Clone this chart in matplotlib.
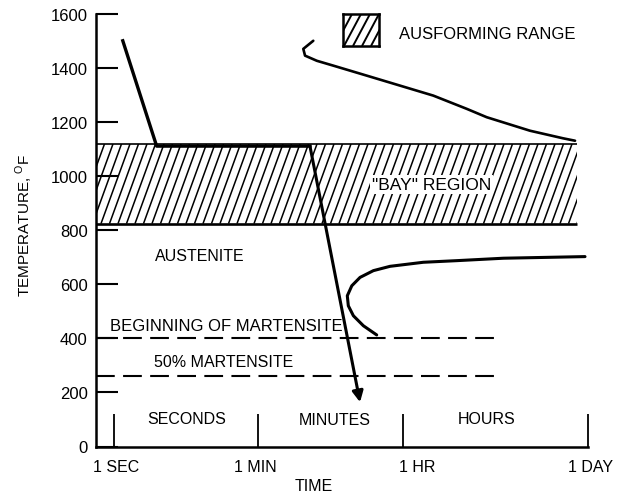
import numpy as np
import matplotlib.pyplot as plt
from matplotlib.collections import LineCollection
from matplotlib.patches import Rectangle

plt.rcParams['font.family'] = ['Liberation Sans', 'DejaVu Sans']
plt.rcParams['mathtext.fontset'] = 'custom'
plt.rcParams['mathtext.rm'] = 'Liberation Sans'

# schematic time axis: 1 sec = 0, 1 min = 1, 1 hr = 2, 1 day = 3.28
time_ticks = [0, 1, 2, 3.28]
time_labels = ['1 SEC', '1 MIN', '1 HR', '1 DAY']
temp_ticks = [0, 200, 400, 600, 800, 1000, 1200, 1400, 1600]

band_end = 3.20
band_temp = [825, 1120]

# cooling path (austenitize, quench to bay, ausform, quench)
cool_t = [0.064, 0.298, 1.357, 1.703]
cool_T = [1502, 1112, 1112, 164]

# upper transformation curve
upper_t = [1.380, 1.311, 1.323, 1.404, 1.518, 1.749, 1.979, 2.209, 2.440, 2.578, 2.877, 3.105, 3.188]
upper_T = [1502, 1472, 1447, 1428, 1410, 1373, 1336, 1299, 1250, 1219, 1169, 1141, 1132]

# lower (bainite) curve
lower_t = [1.818, 1.726, 1.657, 1.622, 1.615, 1.646, 1.703, 1.795, 1.910, 2.140, 2.371, 2.693, 3.257]
lower_T = [413, 447, 484, 521, 558, 595, 626, 651, 667, 682, 688, 697, 703]

ms_end = 2.635
ms_T = 400
m50_T = 260

XMIN, XMAX = -0.121, 3.478
FS = 11.5


def hatch(ax, x0, x1, y0, y1, clip, spacing=8.5, angle=70, lw=1.1):
    # steep diagonal hatching, built in pixel space then mapped back
    (X0, Y0) = ax.transData.transform((x0, y0))
    (X1, Y1) = ax.transData.transform((x1, y1))
    run = (Y1 - Y0) / np.tan(np.radians(angle))
    inv = ax.transData.inverted()
    segs = []
    for s in np.arange(X0 - run, X1 + spacing, spacing):
        segs.append(inv.transform([(s, Y0), (s + run, Y1)]))
    lc = LineCollection(segs, colors='black', linewidths=lw, zorder=2)
    ax.add_collection(lc)
    lc.set_clip_path(clip)


fig = plt.figure(figsize=(6.17, 5.02), dpi=100)
ax = fig.add_axes([96 / 617, 1 - 447.5 / 502, 521 / 617, 432.2 / 502])
ax.set_xlim(XMIN, XMAX)
ax.set_ylim(0, 1600)

for s in ['top', 'right']:
    ax.spines[s].set_visible(False)
ax.spines['left'].set_linewidth(1.8)
ax.spines['bottom'].set_linewidth(1.8)
ax.spines['bottom'].set_bounds(XMIN, time_ticks[-1])

ax.set_yticks(temp_ticks)
ax.set_yticklabels([str(v) for v in temp_ticks], fontsize=12)
ax.tick_params(axis='y', direction='in', length=16, width=1.5, pad=6)
ax.set_xticks(time_ticks)
ax.set_xticklabels([])
ax.tick_params(axis='x', direction='in', length=24, width=1.3)

label_dx = [3, -3, 14, 2]
for t, lbl, dx in zip(time_ticks, time_labels, label_dx):
    ax.annotate(lbl, xy=(t, 0), xytext=(dx, -20), textcoords='offset pixels',
                ha='center', va='center', fontsize=FS, annotation_clip=False)

# ausforming band
rect = Rectangle((XMIN, band_temp[0]), band_end - XMIN, band_temp[1] - band_temp[0],
                 facecolor='none', edgecolor='none')
ax.add_patch(rect)
hatch(ax, XMIN, band_end, band_temp[0], band_temp[1], rect)
ax.hlines(band_temp[1], XMIN, band_end, color='black', lw=1.2, zorder=3)
ax.hlines(band_temp[0], XMIN, band_end, color='black', lw=1.9, zorder=3)

# martensite lines
ax.hlines([ms_T, m50_T], XMIN, ms_end, color='black', lw=1.5,
          linestyles=[(0, (9, 4))], zorder=3)

# curves
ax.plot(upper_t, upper_T, color='black', lw=1.9, solid_capstyle='round', zorder=4)
ax.plot(lower_t, lower_T, color='black', lw=2.2, solid_capstyle='round', zorder=4)
ax.plot(cool_t[:-1], cool_T[:-1], color='black', lw=2.4, solid_joinstyle='round', zorder=5)
ax.annotate('', xy=(cool_t[-1], cool_T[-1]), xytext=(cool_t[-2], cool_T[-2]),
            arrowprops=dict(arrowstyle='-|>', lw=2.2, color='black',
                            mutation_scale=16, shrinkA=0, shrinkB=0), zorder=5)

# region labels
ax.text(2.198, 969, '"BAY" REGION', ha='center', va='center', fontsize=12.5, zorder=6,
        bbox=dict(facecolor='white', edgecolor='none', pad=1.5))
ax.text(0.598, 706, 'AUSTENITE', ha='center', va='center', fontsize=FS)
ax.text(0.777, 447, 'BEGINNING OF MARTENSITE', ha='center', va='center', fontsize=12)
ax.text(0.763, 316, '50% MARTENSITE', ha='center', va='center', fontsize=FS)
ax.text(0.506, 102, 'SECONDS', ha='center', va='center', fontsize=FS)
ax.text(1.530, 100, 'MINUTES', ha='center', va='center', fontsize=FS)
ax.text(2.580, 102, 'HOURS', ha='center', va='center', fontsize=FS)

fig.text(313.5 / 617, 1 - 487 / 502, 'TIME', ha='center', va='center', fontsize=FS)
fig.text(24 / 617, 1 - 225 / 502, r'TEMPERATURE, $^{\mathrm{O}}$F', rotation=90,
         ha='center', va='center', fontsize=11)

# legend swatch
lax = fig.add_axes([343 / 617, 1 - 47 / 502, 36 / 617, 32 / 502])
lax.set_xlim(0, 1)
lax.set_ylim(0, 1)
lax.set_xticks([])
lax.set_yticks([])
for s in lax.spines.values():
    s.set_linewidth(1.8)
lrect = Rectangle((0, 0), 1, 1, facecolor='none', edgecolor='none')
lax.add_patch(lrect)
hatch(lax, 0, 1, 0, 1, lrect, spacing=9, angle=62, lw=1.4)
fig.text(399 / 617, 1 - 35 / 502, 'AUSFORMING RANGE', ha='left', va='center', fontsize=12)

fig.savefig('out.png', dpi=100)
